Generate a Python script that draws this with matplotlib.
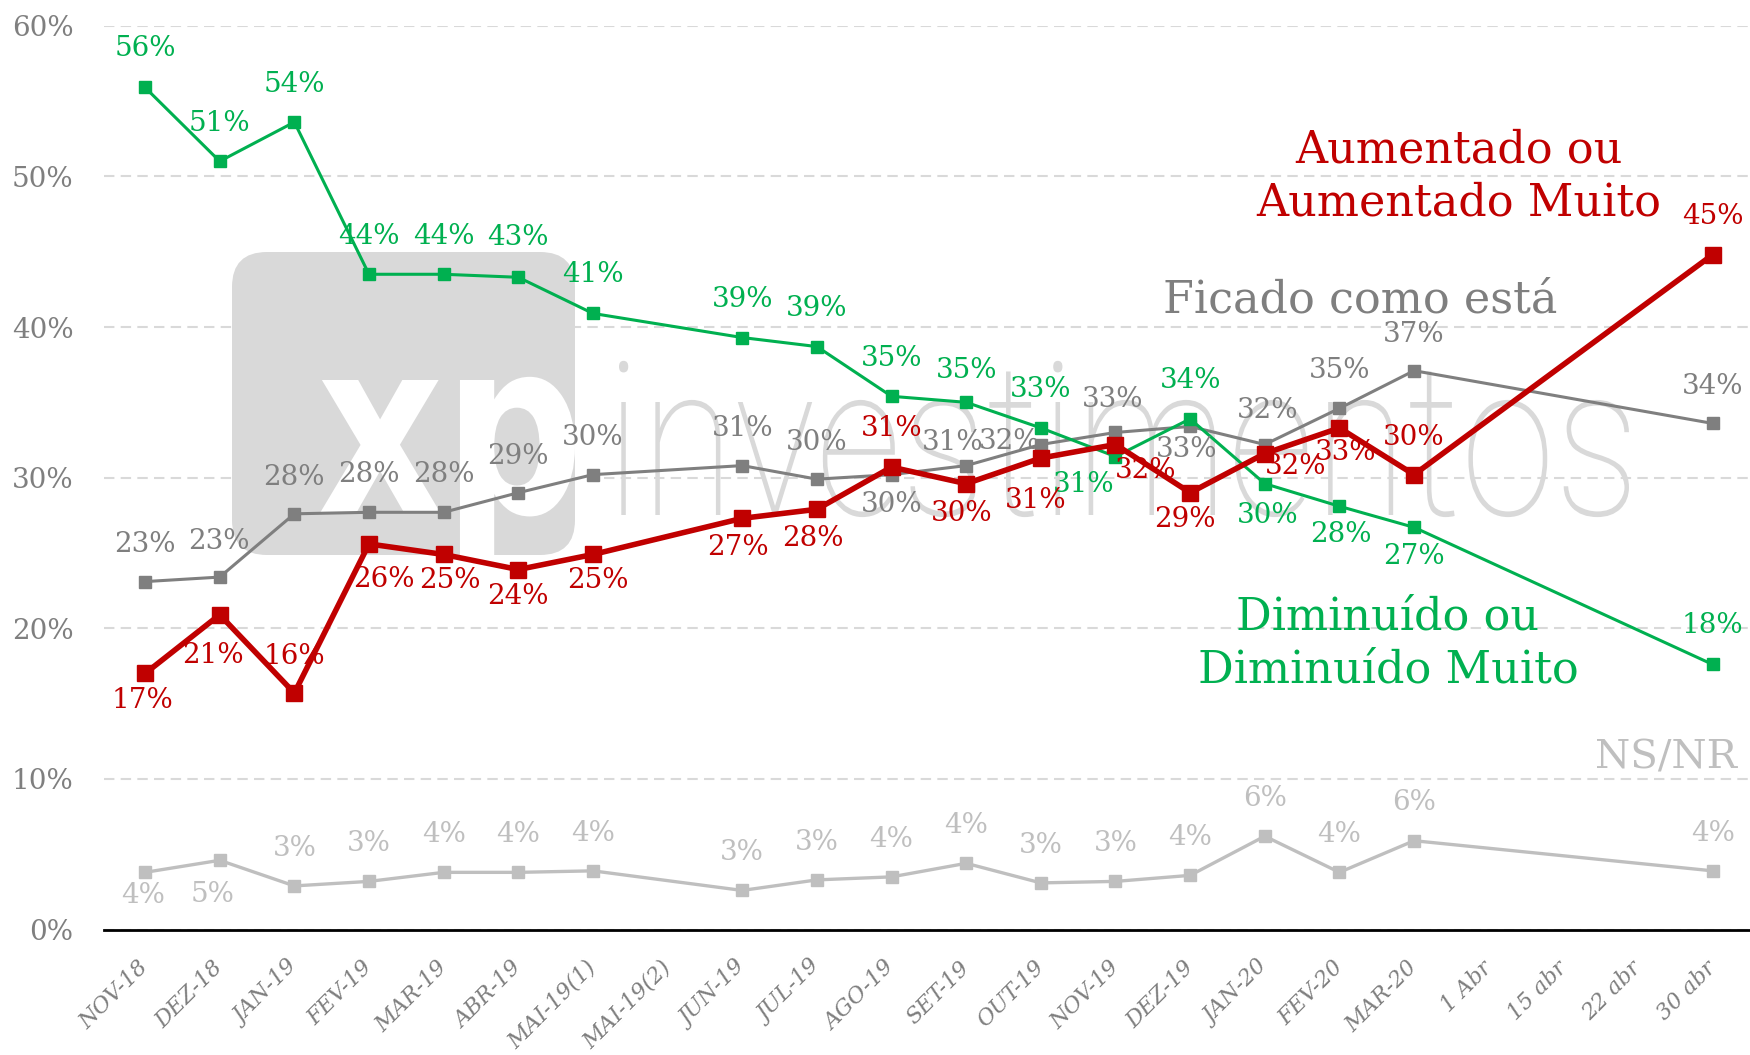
import numpy as np
import matplotlib
matplotlib.use('Agg')
import matplotlib.pyplot as plt
from matplotlib.patches import FancyBboxPatch, PathPatch
from matplotlib.textpath import TextPath
from matplotlib.font_manager import FontProperties
from matplotlib.transforms import IdentityTransform, Affine2D


# categories on the x axis
categories = ['NOV-18', 'DEZ-18', 'JAN-19', 'FEV-19', 'MAR-19', 'ABR-19', 'MAI-19(1)', 'MAI-19(2)',
              'JUN-19', 'JUL-19', 'AGO-19', 'SET-19', 'OUT-19', 'NOV-19', 'DEZ-19', 'JAN-20',
              'FEV-20', 'MAR-20', '1 Abr', '15 abr', '22 abr', '30 abr']

nan = np.nan
# series values in %, nan where there was no survey
diminuido = [55.9, 51.0, 53.6, 43.5, 43.5, 43.3, 40.9, nan, 39.3, 38.7, 35.4, 35.0, 33.3, 31.4,
             33.9, 29.6, 28.1, 26.7, nan, nan, nan, 17.6]
aumentado = [17.0, 20.9, 15.7, 25.6, 24.9, 23.9, 24.9, nan, 27.3, 27.9, 30.7, 29.6, 31.3, 32.2,
             29.0, 31.6, 33.3, 30.2, nan, nan, nan, 44.8]
ficado    = [23.1, 23.4, 27.6, 27.7, 27.7, 29.0, 30.2, nan, 30.8, 29.9, 30.2, 30.8, 32.2, 33.0,
             33.4, 32.2, 34.6, 37.1, nan, nan, nan, 33.6]
nsnr      = [3.8, 4.6, 2.9, 3.2, 3.8, 3.8, 3.9, nan, 2.6, 3.3, 3.5, 4.4, 3.1, 3.2,
             3.6, 6.2, 3.8, 5.9, nan, nan, nan, 3.9]

# label offsets (roughly screen px, right/up) for every existing point
diminuido_off = [(0, 35), (0, 34), (0, 34), (0, 34), (0, 34), (0, 36), (0, 35), (0, 34), (0, 34),
                 (0, 34), (0, 29), (0, 35), (-29, -25), (0, 35), (3, -29), (1, -25), (0, -26), (0, 35)]
aumentado_off = [(-2, -24), (-6, -37), (0, 33), (13, -32), (6, -23), (0, -24), (4, -23), (-4, -26),
                 (-4, -26), (0, 35), (-4, -27), (-5, -38), (27, -23), (-5, -24), (28, -12), (6, -22),
                 (0, 33), (0, 34)]
ficado_off    = [(0, 33), (-1, 32), (0, 33), (0, 34), (0, 34), (0, 33), (0, 33), (0, 33), (0, 33),
                 (0, -27), (-12, 21), (-28, 3), (-3, 30), (-3, -21), (3, 31), (0, 34), (0, 33), (0, 33)]
nsnr_off      = [(-2, -21), (-6, -31)] + [(0, 34)] * 16

GREEN = '#00B050'
RED = '#C00000'
DGRAY = '#7F7F7F'
LGRAY = '#BFBFBF'

plt.rcParams['font.family'] = 'DejaVu Serif'

W, H = 1750, 1055
fig = plt.figure(figsize=(W / 100, H / 100), dpi=100)
ax = fig.add_axes([104 / W, 1 - 929.6 / H, 1 - 104 / W, (929.6 - 25.7) / H])

x = np.arange(len(categories))

series = [
    (nsnr,      LGRAY, 2.4, 9,  nsnr_off),
    (ficado,    DGRAY, 2.2, 9,  ficado_off),
    (diminuido, GREEN, 2.2, 9,  diminuido_off),
    (aumentado, RED,   4.0, 11, aumentado_off),
]
for values, color, lw, ms, offsets in series:
    v = np.array(values, dtype=float)
    ok = ~np.isnan(v)
    ax.plot(x[ok], v[ok], color=color, lw=lw, marker='s', ms=ms, zorder=3)
    for xi, yi, (dx, dy) in zip(x[ok], v[ok], offsets):
        ax.annotate(f'{yi:.0f}%', (xi, yi), xytext=(dx * 0.8, dy * 0.8), textcoords='offset points',
                    ha='center', va='center', color=color, fontsize=20, zorder=4)

# series names
ax.text(17.6, 50.0, 'Aumentado ou\nAumentado Muito', color=RED, fontsize=32,
        ha='center', va='center', linespacing=1.3, zorder=5)
ax.text(16.28, 41.8, 'Ficado como está', color=DGRAY, fontsize=32,
        ha='center', va='center', zorder=5)
ax.text(16.65, 19.0, 'Diminuído ou\nDiminuído Muito', color=GREEN, fontsize=32,
        ha='center', va='center', linespacing=1.3, zorder=5)
ax.text(21.32, 11.4, 'NS/NR', color=LGRAY, fontsize=29, ha='right', va='center', zorder=5)


# watermark logo, placed in pixels
def text_patch(s, prop, x0, x1, base, xh, color, z):
    tp = TextPath((0, 0), s, size=100, prop=prop)
    ext = tp.get_extents()
    xref = TextPath((0, 0), 'x', size=100, prop=prop).get_extents()
    sx = (x1 - x0) / ext.width
    sy = xh / xref.height
    tr = Affine2D().translate(-ext.x0, 0).scale(sx, sy).translate(x0, base)
    return PathPatch(tr.transform_path(tp), fc=color, ec='none', lw=0,
                     transform=IdentityTransform(), zorder=z)


square = FancyBboxPatch((232, H - 555), 343, 303, boxstyle='round,pad=0,rounding_size=35',
                        fc='#D9D9D9', ec='none', transform=IdentityTransform(), zorder=1)
ax.add_artist(square)
xp = text_patch('xp', FontProperties(family='DejaVu Sans', weight='bold'),
                320, 575, H - 513, 133, 'white', 1.1)
ax.add_artist(xp)
xp.set_clip_path(square)
inv = text_patch('investimentos', FontProperties(family='Roboto', weight='light'),
                 619, 1629, H - 515, 113, '#D9D9D9', 1.2)
ax.add_artist(inv)

# axes styling
ax.set_xlim(-0.55, 21.5)
ax.set_ylim(0, 60)
ax.set_yticks(range(0, 61, 10))
ax.set_yticklabels([f'{t}%' for t in range(0, 61, 10)], fontsize=20, color=DGRAY)
ax.set_xticks(x)
ax.set_xticklabels(categories, rotation=45, ha='right', va='center', rotation_mode='anchor',
                   fontsize=16, style='italic', color=DGRAY)
ax.tick_params(axis='y', length=0, pad=22)
ax.tick_params(axis='x', length=0, pad=25)
ax.yaxis.grid(True, ls=(0, (5, 3)), color='#D9D9D9', lw=1.5)
ax.set_axisbelow(True)
for side in ['top', 'right', 'left']:
    ax.spines[side].set_visible(False)
ax.spines['bottom'].set_color('black')
ax.spines['bottom'].set_linewidth(2)
ax.spines['bottom'].set_zorder(6)

fig.savefig('out.png', dpi=100)
